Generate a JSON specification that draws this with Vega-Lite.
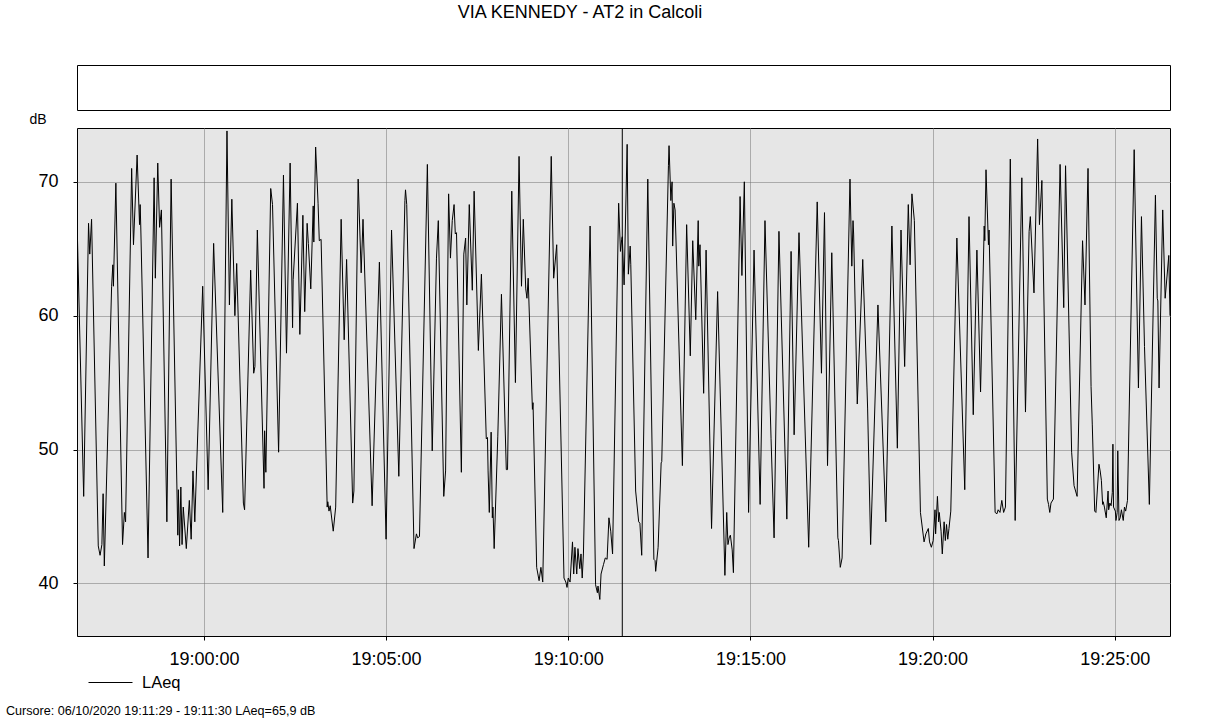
{
"$schema": "https://vega.github.io/schema/vega-lite/v6.json",
"background": "white",
"padding": {"left": 5, "top": 3, "right": 40, "bottom": 5},
"autosize": {"type": "pad"},
"bounds": "flush",
"spacing": 18,
"config": {
  "font": "Liberation Sans",
  "view": {"fill": "#e6e6e6", "stroke": "black", "strokeWidth": 1},
  "title": {"font": "Liberation Sans", "fontSize": 18, "fontWeight": "normal", "color": "black"}
},
"title": {"text": "VIA KENNEDY - AT2 in Calcoli", "anchor": "middle", "dx": -8, "offset": 43},
"vconcat": [
  {
    "width": 1093, "height": 45,
    "data": {"values": []},
    "mark": "point",
    "encoding": {},
    "view": {"fill": "white", "stroke": "black"}
  },
  {
    "width": 1093, "height": 508,
    "title": {"text": "Cursore: 06/10/2020 19:11:29 - 19:11:30  LAeq=65,9 dB", "orient": "bottom", "anchor": "start", "dx": -23, "offset": 37, "fontSize": 12.6},
    "data": {"values": [
{"sec":-209,"dB":67.2},{"sec":-198,"dB":46.5},{"sec":-190,"dB":66.9},{"sec":-188,"dB":64.6},{"sec":-185,"dB":67.2},{"sec":-174,"dB":42.8},{"sec":-171,"dB":42.1},{"sec":-168,"dB":42.9},{"sec":-166,"dB":46.7},{"sec":-164,"dB":41.3},{"sec":-152,"dB":62.2},{"sec":-150,"dB":63.8},{"sec":-149,"dB":62.2},{"sec":-145,"dB":69.9},{"sec":-134,"dB":42.9},{"sec":-131,"dB":45.3},{"sec":-129,"dB":44.6},{"sec":-119,"dB":71.0},{"sec":-116,"dB":65.3},{"sec":-110,"dB":72.0},{"sec":-106,"dB":66.8},{"sec":-105,"dB":68.3},{"sec":-104,"dB":66.7},{"sec":-92,"dB":41.9},{"sec":-82,"dB":70.3},{"sec":-80,"dB":62.8},{"sec":-76,"dB":71.4},{"sec":-73,"dB":66.6},{"sec":-70,"dB":67.9},{"sec":-61,"dB":44.6},{"sec":-54,"dB":70.2},
{"sec":-43,"dB":43.6},{"sec":-42,"dB":47.0},{"sec":-40,"dB":42.8},{"sec":-38,"dB":47.2},{"sec":-36,"dB":42.9},{"sec":-34,"dB":45.7},{"sec":-29,"dB":42.6},{"sec":-24,"dB":46.2},{"sec":-21,"dB":43.3},{"sec":-18,"dB":48.4},{"sec":-15,"dB":44.6},{"sec":-2,"dB":62.2},{"sec":7,"dB":47.0},{"sec":16,"dB":65.4},{"sec":31,"dB":45.3},{"sec":38,"dB":73.8},{"sec":42,"dB":60.8},{"sec":46,"dB":68.7},{"sec":51,"dB":60.0},{"sec":54,"dB":63.9},{"sec":65,"dB":46.0},{"sec":67,"dB":45.5},{"sec":77,"dB":63.4},{"sec":82,"dB":55.7},{"sec":84,"dB":56.2},{"sec":88,"dB":66.4},
{"sec":99,"dB":47.1},{"sec":100,"dB":51.4},{"sec":102,"dB":48.3},{"sec":110,"dB":69.5},{"sec":113,"dB":68.3},{"sec":123,"dB":49.8},{"sec":131,"dB":70.5},{"sec":136,"dB":57.2},{"sec":142,"dB":71.4},{"sec":146,"dB":59.1},{"sec":147,"dB":62.7},{"sec":154,"dB":68.4},{"sec":158,"dB":58.6},{"sec":163,"dB":67.5},{"sec":166,"dB":60.3},{"sec":170,"dB":66.9},{"sec":172,"dB":65.4},{"sec":176,"dB":62.0},{"sec":180,"dB":68.2},{"sec":181,"dB":65.5},{"sec":184,"dB":72.6},{"sec":188,"dB":68.4},{"sec":190,"dB":65.6},{"sec":193,"dB":65.7},{"sec":203,"dB":45.7},{"sec":204,"dB":46.1},{"sec":206,"dB":45.4},{"sec":208,"dB":45.8},{"sec":213,"dB":43.9},{"sec":217,"dB":45.7},{"sec":226,"dB":67.2},{"sec":231,"dB":58.2},{"sec":235,"dB":64.2},{"sec":245,"dB":46.0},
{"sec":247,"dB":46.9},{"sec":254,"dB":70.2},{"sec":259,"dB":63.2},{"sec":262,"dB":67.2},{"sec":277,"dB":45.8},{"sec":289,"dB":64.0},{"sec":300,"dB":43.3},{"sec":309,"dB":66.4},{"sec":321,"dB":48.0},{"sec":331,"dB":68.6},{"sec":332,"dB":69.4},{"sec":334,"dB":68.3},{"sec":346,"dB":42.6},{"sec":350,"dB":43.7},{"sec":352,"dB":43.4},{"sec":355,"dB":43.5},{"sec":368,"dB":71.3},{"sec":376,"dB":49.9},{"sec":383,"dB":64.3},{"sec":386,"dB":67.1},{"sec":395,"dB":46.5},
{"sec":398,"dB":48.4},{"sec":403,"dB":69.1},{"sec":406,"dB":64.3},{"sec":409,"dB":67.1},{"sec":412,"dB":68.3},{"sec":414,"dB":66.1},{"sec":416,"dB":66.2},{"sec":424,"dB":48.3},{"sec":428,"dB":64.6},{"sec":431,"dB":65.8},{"sec":433,"dB":60.8},{"sec":437,"dB":68.3},{"sec":442,"dB":61.9},{"sec":445,"dB":69.3},{"sec":452,"dB":57.4},{"sec":457,"dB":63.1},{"sec":465,"dB":50.8},{"sec":467,"dB":50.9},{"sec":468,"dB":48.4},{"sec":470,"dB":45.3},{"sec":473,"dB":51.3},{"sec":475,"dB":44.9},{"sec":476,"dB":45.7},{"sec":478,"dB":42.6},{"sec":484,"dB":51.0},{"sec":490,"dB":61.6},{"sec":498,"dB":48.5},{"sec":500,"dB":48.5},{"sec":507,"dB":69.3},{"sec":513,"dB":55.0},{"sec":519,"dB":71.9},{"sec":523,"dB":62.2},{"sec":526,"dB":67.2},{"sec":530,"dB":62.0},{"sec":532,"dB":61.3},{"sec":534,"dB":62.8},{"sec":541,"dB":53.0},{"sec":542,"dB":53.5},
{"sec":548,"dB":41.2},{"sec":552,"dB":40.2},{"sec":555,"dB":41.2},{"sec":558,"dB":40.1},{"sec":572,"dB":71.9},{"sec":576,"dB":62.8},{"sec":581,"dB":65.3},{"sec":593,"dB":40.4},{"sec":596,"dB":40.1},{"sec":598,"dB":39.7},{"sec":600,"dB":40.4},{"sec":603,"dB":40.1},{"sec":607,"dB":43.1},{"sec":609,"dB":40.7},{"sec":611,"dB":42.7},{"sec":614,"dB":40.7},{"sec":616,"dB":42.6},{"sec":619,"dB":41.1},{"sec":621,"dB":42.2},{"sec":623,"dB":40.4},{"sec":625,"dB":42.2},{"sec":636,"dB":66.7},{"sec":645,"dB":39.9},{"sec":648,"dB":39.3},{"sec":649,"dB":39.8},{"sec":652,"dB":38.8},{"sec":654,"dB":40.7},{"sec":658,"dB":41.4},{"sec":661,"dB":41.9},{"sec":664,"dB":41.8},{"sec":667,"dB":44.9},{"sec":670,"dB":43.9},{"sec":673,"dB":42.2},{"sec":683,"dB":68.4},{"sec":686,"dB":64.8},{"sec":688,"dB":65.7},{"sec":689,"dB":65.9},{"sec":692,"dB":62.3},
{"sec":697,"dB":72.8},{"sec":699,"dB":63.1},{"sec":702,"dB":65.2},{"sec":703,"dB":63.8},{"sec":711,"dB":46.9},{"sec":716,"dB":44.6},{"sec":718,"dB":44.5},{"sec":721,"dB":42.1},{"sec":731,"dB":70.2},{"sec":741,"dB":41.8},{"sec":743,"dB":41.7},{"sec":744,"dB":40.9},{"sec":748,"dB":42.7},{"sec":753,"dB":49.0},{"sec":754,"dB":49.1},{"sec":765,"dB":71.2},{"sec":766,"dB":72.7},{"sec":769,"dB":68.6},{"sec":771,"dB":70.0},{"sec":772,"dB":65.2},{"sec":774,"dB":68.4},{"sec":776,"dB":67.9},{"sec":788,"dB":48.8},{"sec":795,"dB":66.8},{"sec":801,"dB":57.0},{"sec":805,"dB":65.6},{"sec":810,"dB":59.7},{"sec":814,"dB":67.1},{"sec":815,"dB":63.7},{"sec":817,"dB":65.3},{"sec":823,"dB":54.2},{"sec":827,"dB":64.9},{"sec":836,"dB":44.1},
{"sec":846,"dB":61.8},{"sec":858,"dB":40.6},{"sec":861,"dB":45.3},{"sec":863,"dB":42.9},{"sec":865,"dB":43.4},{"sec":867,"dB":43.6},{"sec":870,"dB":42.5},{"sec":872,"dB":40.8},{"sec":883,"dB":68.9},{"sec":886,"dB":63.0},{"sec":890,"dB":70.0},{"sec":897,"dB":45.3},{"sec":906,"dB":64.9},{"sec":916,"dB":45.9},{"sec":924,"dB":67.1},{"sec":934,"dB":50.8},{"sec":939,"dB":43.4},{"sec":947,"dB":66.3},{"sec":960,"dB":44.8},{"sec":967,"dB":64.8},{"sec":972,"dB":51.1},{"sec":980,"dB":66.2},{"sec":996,"dB":42.7},
{"sec":1010,"dB":68.5},{"sec":1017,"dB":55.7},{"sec":1022,"dB":67.7},{"sec":1027,"dB":48.8},{"sec":1034,"dB":64.7},{"sec":1044,"dB":43.4},{"sec":1045,"dB":43.2},{"sec":1048,"dB":41.2},{"sec":1051,"dB":41.9},{"sec":1064,"dB":70.2},{"sec":1067,"dB":63.7},{"sec":1069,"dB":67.1},{"sec":1070,"dB":66.1},{"sec":1076,"dB":53.4},{"sec":1085,"dB":64.2},{"sec":1092,"dB":54.6},{"sec":1093,"dB":53.1},{"sec":1098,"dB":42.9},{"sec":1110,"dB":60.8},{"sec":1123,"dB":44.6},{"sec":1133,"dB":66.7},{"sec":1142,"dB":50.1},
{"sec":1148,"dB":66.4},{"sec":1154,"dB":56.2},{"sec":1160,"dB":68.3},{"sec":1163,"dB":63.8},{"sec":1166,"dB":69.1},{"sec":1170,"dB":67.1},{"sec":1180,"dB":45.3},{"sec":1186,"dB":43.1},{"sec":1189,"dB":43.7},{"sec":1193,"dB":44.1},{"sec":1195,"dB":43.1},{"sec":1198,"dB":42.7},{"sec":1201,"dB":43.2},{"sec":1204,"dB":45.5},{"sec":1205,"dB":43.7},{"sec":1208,"dB":46.5},{"sec":1210,"dB":44.6},{"sec":1211,"dB":45.3},{"sec":1214,"dB":43.9},{"sec":1216,"dB":42.2},{"sec":1219,"dB":44.6},{"sec":1221,"dB":43.2},{"sec":1223,"dB":44.4},{"sec":1225,"dB":43.3},{"sec":1227,"dB":44.1},{"sec":1230,"dB":45.4},{"sec":1240,"dB":65.8},{"sec":1253,"dB":47.0},{"sec":1260,"dB":67.4},{"sec":1267,"dB":52.6},{"sec":1273,"dB":64.9},{"sec":1279,"dB":54.3},{"sec":1285,"dB":66.7},{"sec":1286,"dB":65.6},{"sec":1288,"dB":70.9},{"sec":1292,"dB":65.3},{"sec":1293,"dB":66.4},
{"sec":1303,"dB":45.3},{"sec":1306,"dB":45.2},{"sec":1308,"dB":45.5},{"sec":1311,"dB":45.3},{"sec":1314,"dB":46.2},{"sec":1317,"dB":45.3},{"sec":1320,"dB":45.7},{"sec":1328,"dB":71.7},{"sec":1336,"dB":44.7},{"sec":1347,"dB":70.3},{"sec":1353,"dB":52.8},{"sec":1359,"dB":66.3},{"sec":1361,"dB":67.4},{"sec":1367,"dB":61.7},{"sec":1373,"dB":73.2},{"sec":1376,"dB":66.8},{"sec":1380,"dB":70.1},{"sec":1389,"dB":46.3},{"sec":1391,"dB":45.9},{"sec":1393,"dB":45.3},{"sec":1395,"dB":46.0},{"sec":1399,"dB":46.3},{"sec":1410,"dB":71.3},{"sec":1416,"dB":60.6},{"sec":1419,"dB":71.2},{"sec":1429,"dB":49.8},{"sec":1433,"dB":47.3},{"sec":1438,"dB":46.5},
{"sec":1447,"dB":65.6},{"sec":1451,"dB":60.8},{"sec":1456,"dB":71.0},{"sec":1461,"dB":54.7},{"sec":1463,"dB":51.9},{"sec":1467,"dB":45.4},{"sec":1469,"dB":45.3},{"sec":1474,"dB":48.9},{"sec":1476,"dB":48.4},{"sec":1478,"dB":47.7},{"sec":1480,"dB":45.9},{"sec":1481,"dB":46.1},{"sec":1483,"dB":45.7},{"sec":1486,"dB":44.9},{"sec":1489,"dB":46.9},{"sec":1490,"dB":45.5},{"sec":1492,"dB":46.0},{"sec":1494,"dB":45.8},{"sec":1496,"dB":46.8},{"sec":1497,"dB":50.4},{"sec":1498,"dB":45.7},{"sec":1501,"dB":45.4},{"sec":1502,"dB":44.7},{"sec":1504,"dB":45.3},{"sec":1505,"dB":49.9},{"sec":1507,"dB":44.7},{"sec":1509,"dB":44.9},{"sec":1511,"dB":45.5},{"sec":1514,"dB":44.7},{"sec":1516,"dB":45.7},{"sec":1518,"dB":45.4},{"sec":1521,"dB":46.2},{"sec":1532,"dB":72.4},{"sec":1539,"dB":54.6},{"sec":1544,"dB":67.4},{"sec":1549,"dB":57.7},{"sec":1557,"dB":45.9},{"sec":1567,"dB":69.0},{"sec":1570,"dB":61.3},{"sec":1571,"dB":61.1},{"sec":1573,"dB":54.6},{"sec":1579,"dB":67.9},{"sec":1583,"dB":61.3},{"sec":1589,"dB":64.5},{"sec":1591,"dB":60.0}
    ]},
    "layer": [
      {
        "mark": {"type": "line", "color": "black", "strokeWidth": 1, "clip": true},
        "encoding": {
          "x": {"field": "sec", "type": "quantitative",
                "scale": {"domain": [-209, 1591], "nice": false, "zero": false},
                "axis": {"values": [0, 300, 600, 900, 1200, 1500], "title": null,
                         "labelExpr": "'19:' + (datum.value < 600 ? '0' : '') + (datum.value / 60) + ':00'",
                         "labelFontSize": 18, "labelColor": "black", "labelPadding": 10, "labelFlush": false,
                         "tickSize": 4, "tickColor": "black", "domain": false,
                         "grid": true, "gridColor": "#707070", "gridDash": [1, 1], "gridOpacity": 1}},
          "y": {"field": "dB", "type": "quantitative",
                "scale": {"domain": [36.07, 74.02], "nice": false, "zero": false},
                "axis": {"values": [40, 50, 60, 70], "title": "dB", "titleAngle": 0, "titleAlign": "left",
                         "titleBaseline": "middle", "titleX": -48, "titleY": -9, "titleFontWeight": "normal",
                         "titleFontSize": 14, "titleColor": "black",
                         "labelFontSize": 18, "labelColor": "black", "labelPadding": 15,
                         "tickSize": 4, "tickColor": "black", "domain": false,
                         "grid": true, "gridColor": "#707070", "gridDash": [1, 1], "gridOpacity": 1}},
          "color": {"datum": "LAeq", "type": "nominal", "scale": {"range": ["black"]},
                    "legend": {"orient": "none", "legendX": 11, "legendY": 595, "title": null,
                               "symbolType": "stroke", "symbolSize": 1936, "symbolStrokeWidth": 1,
                               "labelFontSize": 16.5, "labelColor": "black", "labelOffset": 9}}
        }
      },
      {
        "data": {"values": [{"sec": 689}]},
        "mark": {"type": "rule", "color": "black", "strokeWidth": 1},
        "encoding": {"x": {"field": "sec", "type": "quantitative"}}
      }
    ]
  }
]
}
